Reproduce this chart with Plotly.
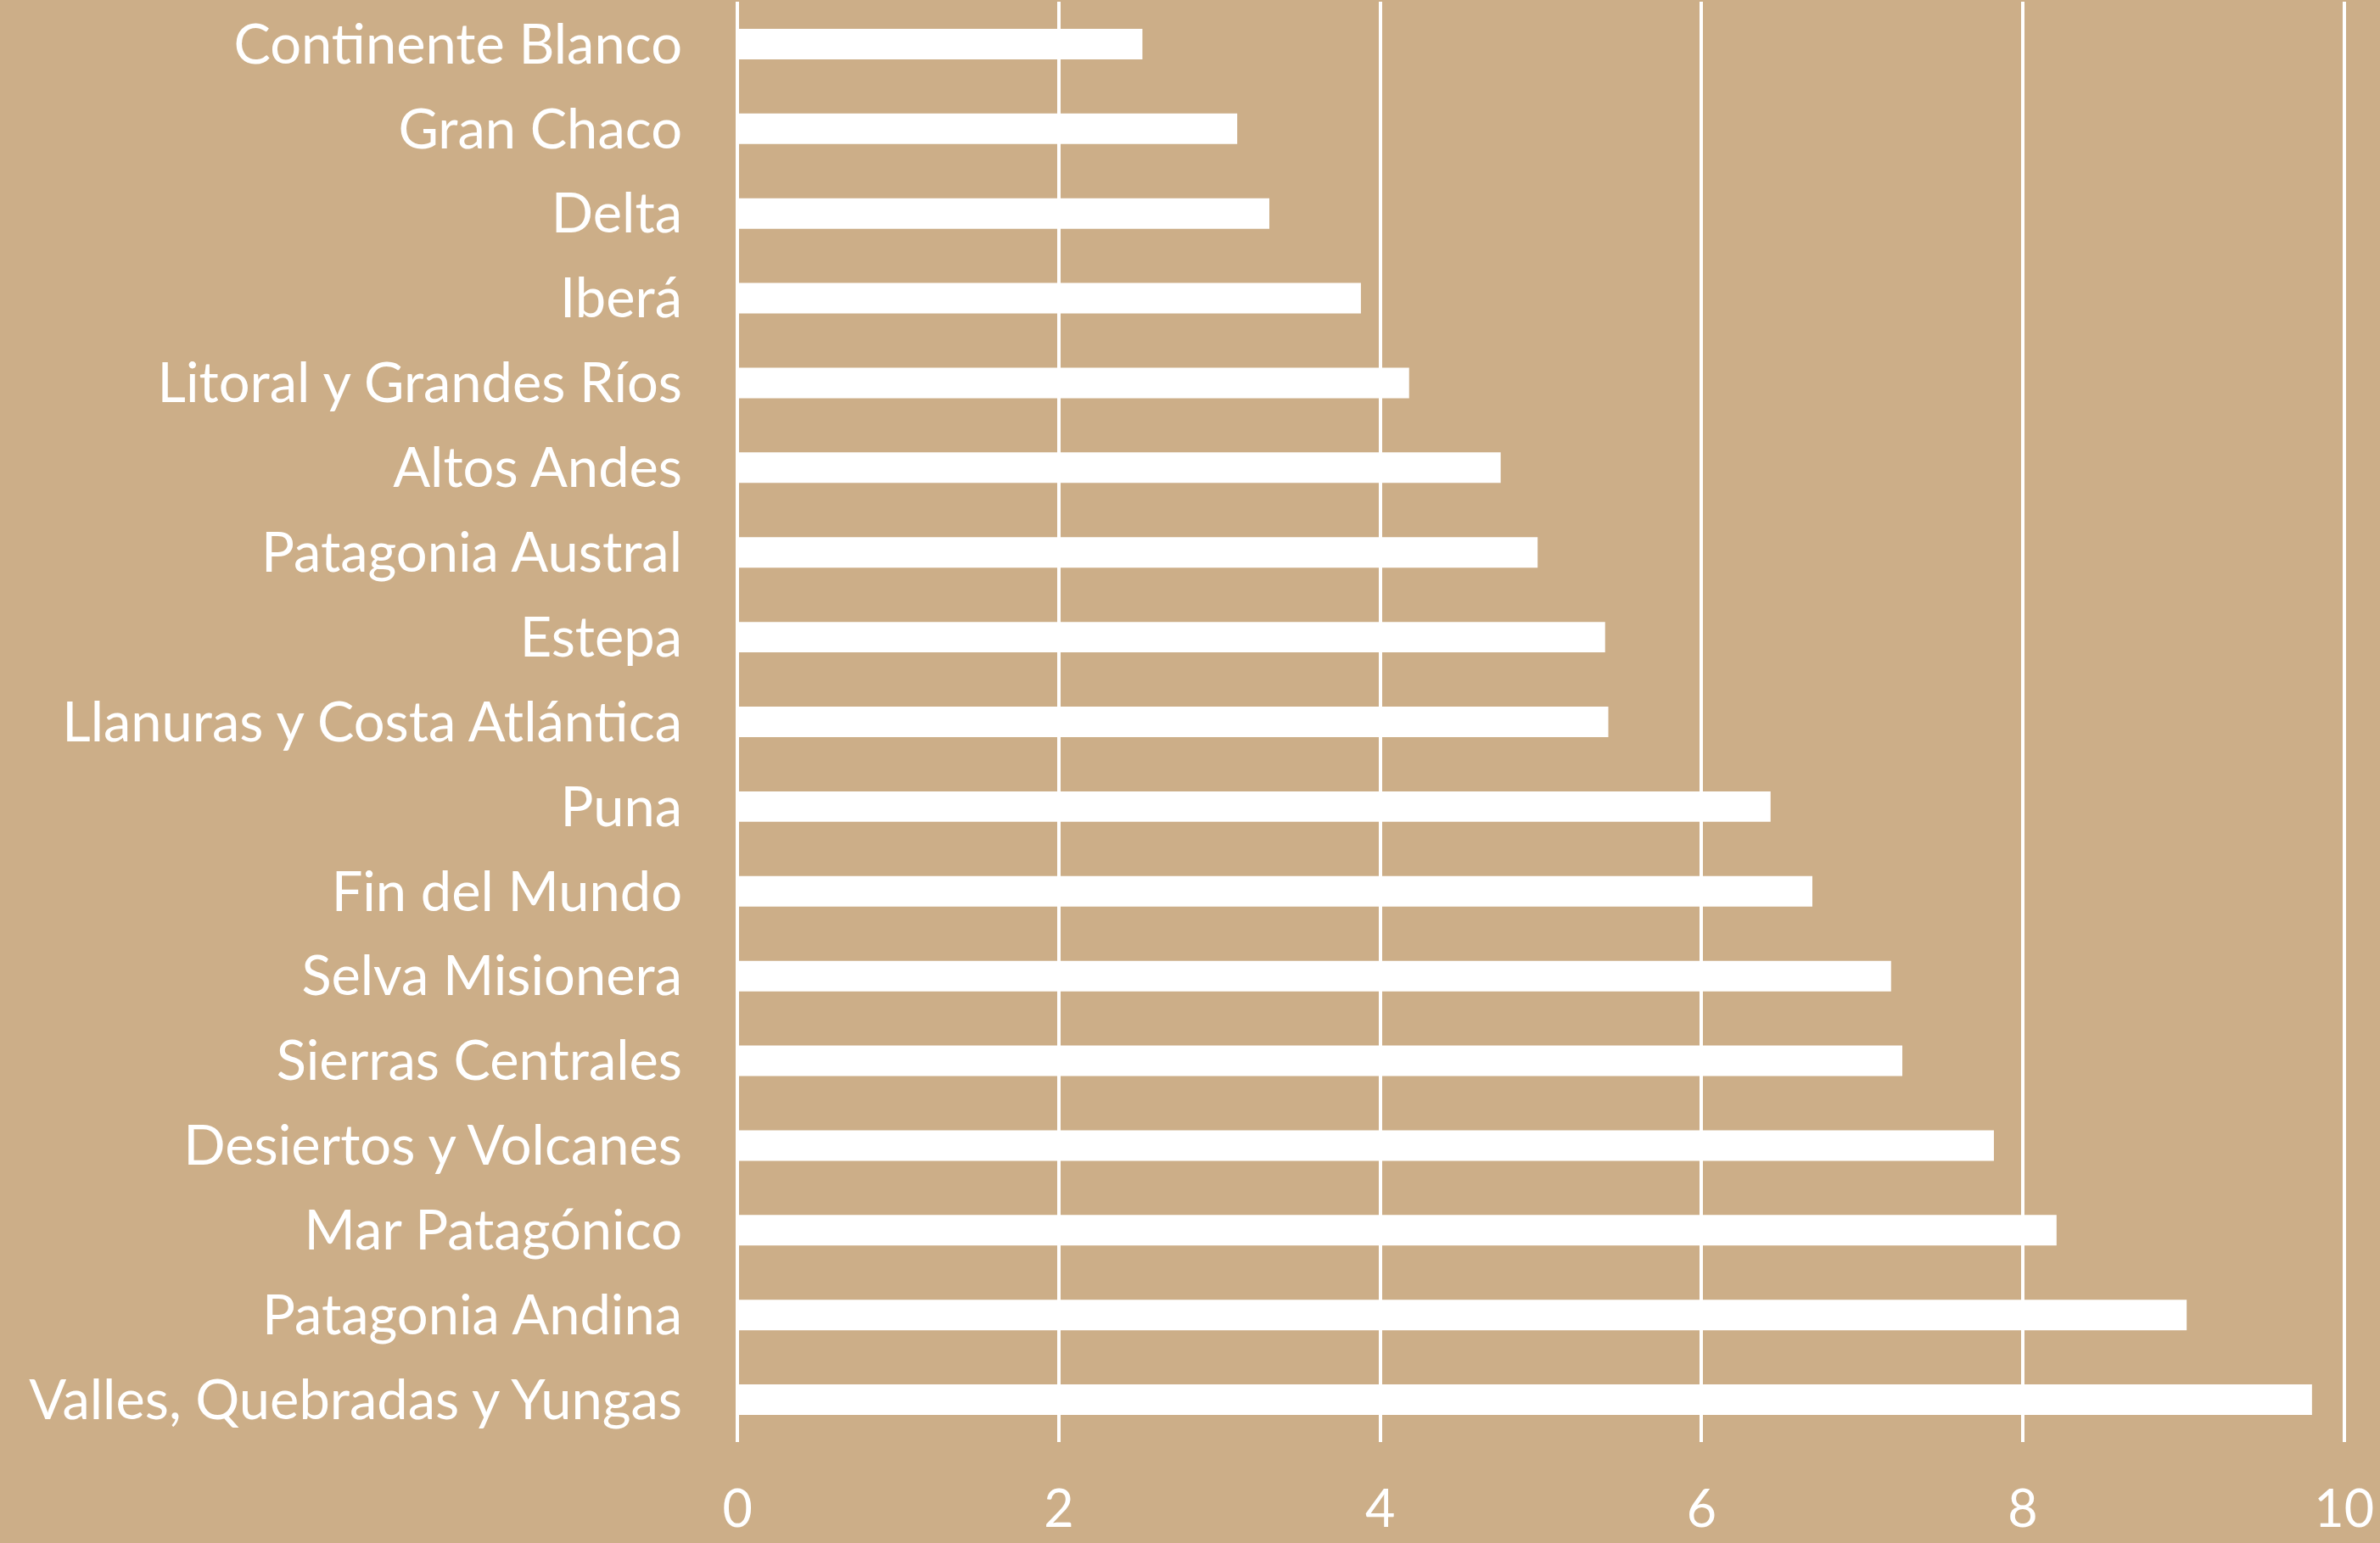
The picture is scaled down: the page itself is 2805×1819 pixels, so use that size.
import plotly.graph_objects as go

categories = [
    "Continente Blanco", "Gran Chaco", "Delta", "Iberá", "Litoral y Grandes Ríos",
    "Altos Andes", "Patagonia Austral", "Estepa", "Llanuras y Costa Atlántica",
    "Puna", "Fin del Mundo", "Selva Misionera", "Sierras Centrales",
    "Desiertos y Volcanes", "Mar Patagónico", "Patagonia Andina",
    "Valles, Quebradas y Yungas",
]
values = [2.52, 3.11, 3.31, 3.88, 4.18, 4.75, 4.98, 5.40, 5.42,
          6.43, 6.69, 7.18, 7.25, 7.82, 8.21, 9.02, 9.80]
x_ticks = [0, 2, 4, 6, 8, 10]

BG = "#CCAE88"
FONT = "Lato"

fig = go.Figure(go.Bar(
    x=values, y=categories, orientation="h",
    marker=dict(color="white", line=dict(width=0)),
    width=0.36,
))

fig.update_layout(
    width=2805, height=1819,
    paper_bgcolor=BG, plot_bgcolor=BG,
    margin=dict(l=867, r=40, t=2, b=119, autoexpand=False),
    showlegend=False,
    font=dict(family=FONT, color="white", size=65),
)
fig.update_xaxes(
    range=[-0.012, 10.012], tickvals=x_ticks, ticktext=[str(v) for v in x_ticks],
    showgrid=True, gridcolor="white", gridwidth=4,
    zeroline=False, showline=False, ticks="",
    tickfont=dict(family=FONT, size=61, color="white"),
    ticklabelstandoff=38, automargin=False, fixedrange=True,
)
fig.update_yaxes(
    categoryorder="array", categoryarray=categories, autorange="reversed",
    showgrid=False, zeroline=False, showline=False, ticks="",
    tickfont=dict(family=FONT, size=65, color="white"),
    ticklabelstandoff=62, automargin=False,
)

fig.write_html(
    "out.html",
    config={"displayModeBar": False},
    post_script="document.body.style.margin='0';document.body.style.background='%s';" % BG,
)
